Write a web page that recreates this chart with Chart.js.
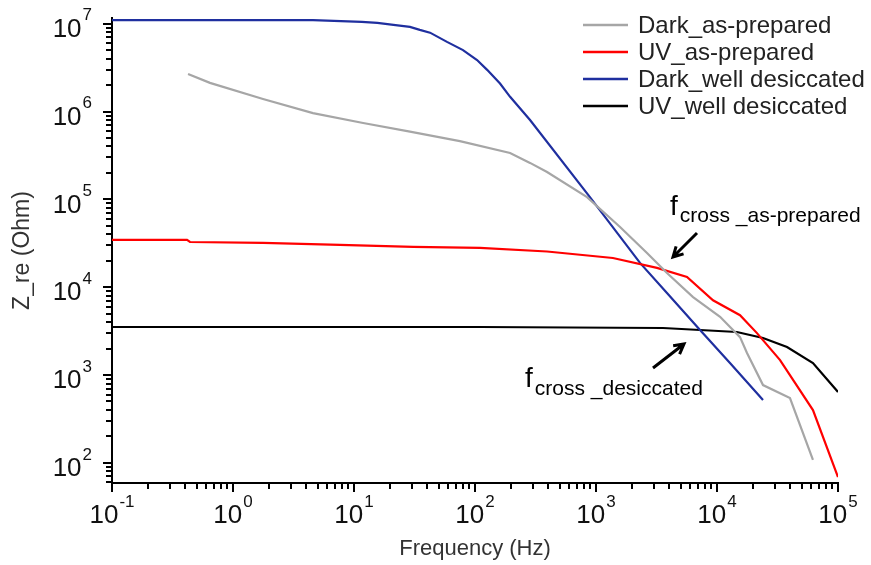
<!DOCTYPE html>
<html>
<head>
<meta charset="utf-8">
<script src="https://cdn.jsdelivr.net/npm/chart.js@4/dist/chart.umd.min.js"></script>
<style>
  body { margin: 0; background: #fff; }
  #wrap { width: 871px; height: 565px; }
</style>
</head>
<body>
<div id="wrap"><canvas id="graf" width="871" height="565"></canvas></div>
<script>
// impedance spectra, Z_re vs frequency
const freqDarkPrep = [0.425, 0.645, 1.77, 4.58, 11.9, 29, 75, 195, 285, 394, 843, 1580, 2640, 3860, 6340, 10600, 15500, 17700, 24000, 40100, 62100];
const zDarkPrep = [2.68e6, 2.12e6, 1.39e6, 9.6e5, 7.4e5, 5.9e5, 4.6e5, 3.37e5, 2.6e5, 2.05e5, 1.06e5, 4.85e4, 2.45e4, 1.45e4, 7.7e3, 4.6e3, 2.7e3, 1.78e3, 769, 547, 108];

const freqUvPrep = [0.1, 0.417, 0.441, 1.77, 7.65, 30.8, 110, 394, 1380, 3190, 5650, 9270, 15500, 21400, 33200, 62100, 100000];
const zUvPrep = [3.45e4, 3.45e4, 3.27e4, 3.19e4, 3.03e4, 2.87e4, 2.8e4, 2.55e4, 2.15e4, 1.66e4, 1.31e4, 7.1e3, 4.8e3, 3.0e3, 1.48e3, 399, 68.9];

const freqDarkDes = [0.1, 4.58, 11.6, 15.6, 21.2, 29, 35, 42.5, 58.7, 79.6, 104, 126, 161, 195, 285, 891, 2310, 3860, 7240, 12800, 24000];
const zDarkDes = [1.1e7, 1.1e7, 1.05e7, 1.02e7, 9.7e6, 9.2e6, 8.5e6, 7.9e6, 6.2e6, 5.0e6, 3.85e6, 2.98e6, 2.08e6, 1.47e6, 8.0e5, 1.06e5, 1.89e4, 8.6e3, 3.26e3, 1.37e3, 519];

const freqUvDes = [0.1, 110, 3580, 14600, 24000, 37900, 62100, 100000];
const zUvDes = [3.52e3, 3.52e3, 3.43e3, 3.09e3, 2.64e3, 2.08e3, 1.37e3, 640];

const nomes = ['Dark_as-prepared', 'UV_as-prepared', 'Dark_well desiccated', 'UV_well desiccated'];
const cores = ['#a6a6a6', '#ff0000', '#1f2f9f', '#000000'];

// decades shown on the axes
const xExps = [-1, 0, 1, 2, 3, 4, 5];
const yExps = [2, 3, 4, 5, 6, 7];
const xMin = 0.1, xMax = 1e5;
const yMin = 59, yMax = 1.16e7;

const FONTE = '"Liberation Sans", Arial, sans-serif';

function pares(xs, ys) {
    return xs.map((v, i) => ({ x: v, y: ys[i] }));
}

// "10" with a raised exponent
function desenhaPot(ctx, exp, x, y, alinh) {
    const base = '10', sup = String(exp);
    ctx.font = '26px ' + FONTE;
    const wb = ctx.measureText(base).width;
    ctx.font = '17px ' + FONTE;
    const ws = ctx.measureText(sup).width;
    const w = wb + ws + 1;
    const x0 = alinh === 'right' ? x - w : x - w / 2;
    ctx.textAlign = 'left';
    ctx.textBaseline = 'middle';
    ctx.fillStyle = '#111';
    ctx.font = '26px ' + FONTE;
    ctx.fillText(base, x0, y);
    ctx.font = '17px ' + FONTE;
    ctx.fillText(sup, x0 + wb + 1, y - 14);
}

function seta(ctx, x1, y1, x2, y2) {
    const ang = Math.atan2(y2 - y1, x2 - x1);
    const h = 11;
    ctx.beginPath();
    ctx.moveTo(x1, y1);
    ctx.lineTo(x2, y2);
    ctx.moveTo(x2 - h * Math.cos(ang - 0.5), y2 - h * Math.sin(ang - 0.5));
    ctx.lineTo(x2, y2);
    ctx.lineTo(x2 - h * Math.cos(ang + 0.5), y2 - h * Math.sin(ang + 0.5));
    ctx.stroke();
}

function rotulo(ctx, x, y, sub, ySub) {
    ctx.fillStyle = '#000';
    ctx.textAlign = 'left';
    ctx.textBaseline = 'alphabetic';
    ctx.font = '28px ' + FONTE;
    ctx.fillText('f', x, y);
    const wf = ctx.measureText('f').width;
    ctx.font = '21px ' + FONTE;
    ctx.fillText(sub, x + wf + 2, ySub);
}

const decoracao = {
    id: 'decoracao',
    afterDraw(chart) {
        const { ctx, chartArea: area } = chart;
        const sx = chart.scales.x, sy = chart.scales.y;
        ctx.save();
        ctx.strokeStyle = '#000';
        ctx.lineWidth = 2;
        ctx.lineCap = 'butt';

        // ticks do eixo x
        for (let e = xExps[0]; e <= xExps[xExps.length - 1]; e++) {
            for (let k = 1; k <= 9; k++) {
                const v = k * Math.pow(10, e);
                if (v < xMin * 0.999 || v > xMax * 1.001) continue;
                const px = Math.round(sx.getPixelForValue(v));
                const len = k === 1 ? 9 : 6;
                ctx.beginPath();
                ctx.moveTo(px, area.bottom);
                ctx.lineTo(px, area.bottom + len);
                ctx.stroke();
            }
        }
        // ticks do eixo y
        for (let e = 1; e <= 7; e++) {
            for (let k = 1; k <= 9; k++) {
                const v = k * Math.pow(10, e);
                if (v < yMin || v > yMax) continue;
                const py = Math.round(sy.getPixelForValue(v));
                const len = k === 1 ? 9 : 6;
                ctx.beginPath();
                ctx.moveTo(area.left, py);
                ctx.lineTo(area.left - len, py);
                ctx.stroke();
            }
        }

        xExps.forEach(e => {
            const px = sx.getPixelForValue(Math.pow(10, e));
            desenhaPot(ctx, e, px, area.bottom + 33, 'center');
        });
        yExps.forEach(e => {
            const py = sy.getPixelForValue(Math.pow(10, e));
            desenhaPot(ctx, e, area.left - 20, py + 6, 'right');
        });

        // legenda
        nomes.forEach((nome, i) => {
            const yy = 25 + i * 27;
            ctx.strokeStyle = cores[i];
            ctx.lineWidth = 2.5;
            ctx.beginPath();
            ctx.moveTo(583, yy);
            ctx.lineTo(628, yy);
            ctx.stroke();
            ctx.fillStyle = '#222';
            ctx.font = '24px ' + FONTE;
            ctx.textAlign = 'left';
            ctx.textBaseline = 'middle';
            ctx.fillText(nome, 638, yy + 1);
        });

        // anotacoes
        rotulo(ctx, 670, 215, 'cross _as-prepared', 222);
        rotulo(ctx, 525, 387, 'cross _desiccated', 395);
        ctx.strokeStyle = '#000';
        ctx.lineWidth = 3;
        seta(ctx, 697, 233, 673, 257);
        seta(ctx, 653, 368, 684, 344);
        ctx.restore();
    }
};

const series = [
    pares(freqDarkPrep, zDarkPrep),
    pares(freqUvPrep, zUvPrep),
    pares(freqDarkDes, zDarkDes),
    pares(freqUvDes, zUvDes)
];

new Chart(document.getElementById('graf').getContext('2d'), {
    type: 'scatter',
    data: {
        datasets: series.map((d, i) => ({
            label: nomes[i],
            data: d,
            showLine: true,
            borderColor: cores[i],
            backgroundColor: cores[i],
            borderWidth: 2.2,
            pointRadius: 0,
            tension: 0
        }))
    },
    options: {
        responsive: false,
        devicePixelRatio: 1,
        animation: false,
        layout: { padding: { top: 18, right: 33, left: 0, bottom: 0 } },
        plugins: {
            legend: { display: false },
            tooltip: { enabled: false }
        },
        scales: {
            x: {
                type: 'logarithmic',
                position: 'bottom',
                min: xMin,
                max: xMax,
                grid: { display: false },
                ticks: { display: false },
                border: { display: true, color: '#000', width: 2 },
                title: {
                    display: true,
                    text: 'Frequency (Hz)',
                    color: '#333',
                    font: { family: FONTE, size: 22 },
                    padding: { top: 0, bottom: 3 }
                },
                afterFit(s) { s.height = 82; }
            },
            y: {
                type: 'logarithmic',
                min: yMin,
                max: yMax,
                grid: { display: false },
                ticks: { display: false },
                border: { display: true, color: '#000', width: 2 },
                title: {
                    display: true,
                    text: 'Z_re (Ohm)',
                    color: '#333',
                    font: { family: FONTE, size: 23 },
                    padding: { top: 9, bottom: 0 }
                },
                afterFit(s) { s.width = 112; }
            }
        }
    },
    plugins: [decoracao]
});
</script>
</body>
</html>
